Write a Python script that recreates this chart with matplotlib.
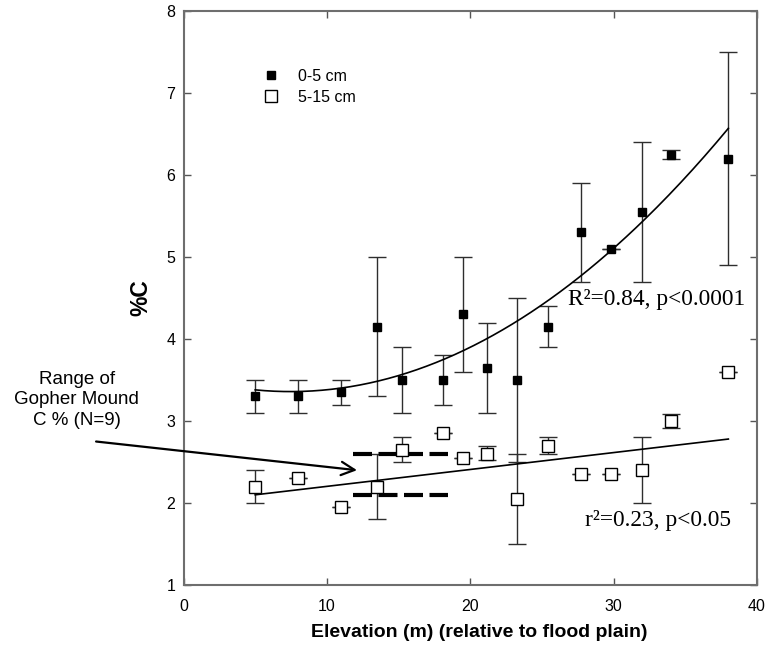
import numpy as np
import matplotlib
matplotlib.use('Agg')
import matplotlib.pyplot as plt

plt.rcParams['font.family'] = ['Liberation Sans', 'DejaVu Sans']

# 0-5 cm depth (filled squares)
elev_top = [5, 8, 11, 13.5, 15.25, 18.1, 19.5, 21.2, 23.25, 25.4, 27.7, 29.8, 32, 34, 38]
c_top = [3.3, 3.3, 3.35, 4.15, 3.5, 3.5, 4.3, 3.65, 3.5, 4.15, 5.3, 5.1, 5.55, 6.25, 6.2]
c_top_lo = [3.1, 3.1, 3.2, 3.3, 3.1, 3.2, 3.6, 3.1, 2.5, 3.9, 4.7, 5.1, 4.7, 6.2, 4.9]
c_top_hi = [3.5, 3.5, 3.5, 5.0, 3.9, 3.8, 5.0, 4.2, 4.5, 4.4, 5.9, 5.1, 6.4, 6.3, 7.5]

# 5-15 cm depth (open squares)
elev_sub = [5, 8, 11, 13.5, 15.25, 18.1, 19.5, 21.2, 23.25, 25.4, 27.7, 29.8, 32, 34, 38]
c_sub = [2.2, 2.3, 1.95, 2.2, 2.65, 2.85, 2.55, 2.6, 2.05, 2.7, 2.35, 2.35, 2.4, 3.0, 3.6]
c_sub_lo = [2.0, 2.3, 1.95, 1.8, 2.5, 2.85, 2.55, 2.52, 1.5, 2.6, 2.35, 2.35, 2.0, 2.92, 3.6]
c_sub_hi = [2.4, 2.3, 1.95, 2.6, 2.8, 2.85, 2.55, 2.7, 2.6, 2.8, 2.35, 2.35, 2.81, 3.09, 3.6]

# regression curves
quad_coef = [0.003444, -0.05144, 3.551]   # 0-5 cm, quadratic
lin_ends = ([5, 38], [2.1, 2.78])          # 5-15 cm, linear

# gopher mound range
mound_x = [11.83, 18.46]
mound_lo, mound_hi = 2.1, 2.6

fig = plt.figure(figsize=(7.66, 6.49), dpi=100)
ax = fig.add_axes([0.2396, 0.0986, 0.7487, 0.8844])

err_col = '#2e2e2e'
yerr_top = [np.array(c_top) - np.array(c_top_lo), np.array(c_top_hi) - np.array(c_top)]
yerr_sub = [np.array(c_sub) - np.array(c_sub_lo), np.array(c_sub_hi) - np.array(c_sub)]
ax.errorbar(elev_top, c_top, yerr=yerr_top, fmt='none', ecolor=err_col,
            elinewidth=1.0, capsize=6.5, capthick=1.0, zorder=2)
ax.errorbar(elev_sub, c_sub, yerr=yerr_sub, fmt='none', ecolor=err_col,
            elinewidth=1.0, capsize=6.5, capthick=1.0, zorder=2)

xs = np.linspace(5, 38, 200)
ax.plot(xs, np.polyval(quad_coef, xs), color='black', lw=1.2, zorder=3)
ax.plot(lin_ends[0], lin_ends[1], color='black', lw=1.2, zorder=3)

for yv in (mound_hi, mound_lo):
    ax.plot(mound_x, [yv, yv], color='black', lw=3, dashes=(4.56, 1.56),
            solid_capstyle='butt', dash_capstyle='butt', zorder=3)

ax.plot(elev_top, c_top, 's', color='black', ms=6, label='0-5 cm', zorder=4)
ax.plot(elev_sub, c_sub, 's', mfc='white', mec='black', mew=1.0, ms=8,
        label='5-15 cm', zorder=4)

ax.set_xlim(0, 40)
ax.set_ylim(1, 8)
ax.set_xticks([0, 10, 20, 30, 40])
ax.set_yticks([1, 2, 3, 4, 5, 6, 7, 8])
ax.tick_params(direction='in', length=5, width=1, color='#555555',
               top=True, right=True, labelsize=11.5)
ax.tick_params(axis='x', pad=10)
ax.tick_params(axis='y', pad=6)
for s in ax.spines.values():
    s.set_color('#6e6e6e')
    s.set_linewidth(1.5)

ax.set_xlabel('Elevation (m) (relative to flood plain)', fontsize=14, fontweight='bold')
ax.xaxis.set_label_coords(0.515, -0.068)
ax.set_ylabel('%C', fontsize=16.5, fontweight='bold')
ax.yaxis.set_label_coords(-0.054, 0.5)

ax.legend(loc='upper left', bbox_to_anchor=(0.125, 0.913), frameon=False,
          fontsize=11.5, handletextpad=1.2, labelspacing=0.35, borderpad=0,
          handlelength=1.0)

serif = ['Liberation Serif', 'DejaVu Serif']
ax.text(26.85, 4.48, 'R\u00b2=0.84, p<0.0001', family=serif, fontsize=16.8,
        va='center', ha='left')
ax.text(28.0, 1.79, 'r\u00b2=0.23, p<0.05', family=serif, fontsize=16.8,
        va='center', ha='left')

ax.annotate('', xy=(12.1, 2.4), xytext=(-6.1, 2.75), annotation_clip=False,
            arrowprops=dict(arrowstyle='->', lw=1.6, color='black',
                            mutation_scale=24, shrinkA=0, shrinkB=0))
fig.text(76.7 / 766, 1 - 400 / 649, 'Range of\nGopher Mound\nC % (N=9)',
         ha='center', va='center', fontsize=13.5, linespacing=1.25)

fig.savefig('out.png', dpi=100)
